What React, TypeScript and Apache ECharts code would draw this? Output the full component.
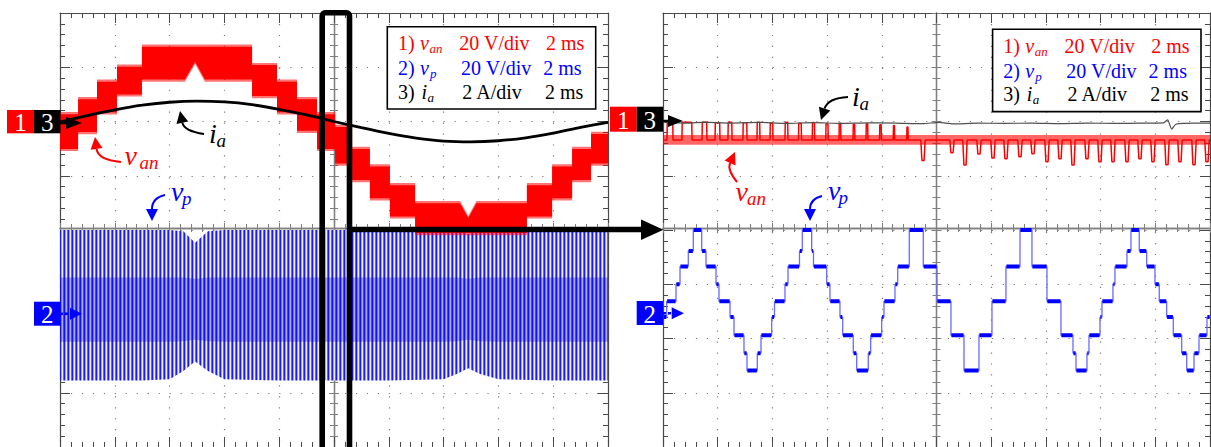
import React, { useEffect, useRef } from "react";
import * as echarts from "echarts";

// ---------------- data ----------------
// time axis: ms (2 ms/div, 10 div per panel); channels: ch1 van 20 V/div, ch2 vp 20 V/div, ch3 ia 2 A/div
const SCALE_VAN = 20;
const SCALE_VP = 20;
const SCALE_IA = 2;
const OFFSET_CH1 = 2; // divisions
const OFFSET_CH3 = 2;
const OFFSET_CH2 = -1.5;

// left panel: van PWM band (steps)
const vanStepStart = [0, 0.66, 1.35, 2.08, 2.99, 7.01, 7.92, 8.65, 9.38, 10.04, 10.66, 11.31, 12.04, 12.96, 17.04, 17.96, 18.69, 19.38];
const vanStepTop = [2.7, 8.2, 14.7, 20.2, 27.6, 20.8, 14.7, 8.2, 2.7, -2.0, -10.1, -16.6, -23.5, -30.1, -23.5, -16.6, -10.1, -4.6];
const vanStepBottom = [-10.1, -3.9, 3.4, 10.0, 15.5, 9.4, 3.4, -3.4, -10.1, -15.5, -21.6, -28.3, -35.0, -41.1, -35.0, -28.3, -21.6, -15.5];
const vanTopNotchT = [14.6, 14.9, 15.2];
const vanTopNotchV = [-30.1, -35.6, -30.1];
const vanBottomNotchT = [4.56, 4.93, 5.29];
const vanBottomNotchV = [15.5, 22.0, 15.5];

// left panel: vp switching band envelope
const vpLeftT = [0, 1, 2, 3, 4, 4.5, 4.93, 5.4, 6, 8, 10, 12, 14, 14.5, 14.9, 15.3, 16, 18, 20];
const vpLeftTop = [30, 30, 30, 30, 30, 29.5, 25.3, 29.5, 30, 30, 30, 30, 30, 30, 28.5, 30, 30, 30, 30];
const vpLeftBottom = [-25.5, -25.5, -25.5, -25.5, -25, -22, -18.5, -22, -25, -25.5, -25.5, -25.5, -25, -23, -21, -23, -25, -25.5, -25.5];
const vpLeftCoreTop = [12.5, 12.5, 12.5, 12.5, 12.5, 12.5, 12, 12.5, 12.5, 12.5, 12.5, 12.5, 12.5, 12.5, 12, 12.5, 12.5, 12.5, 12.5];
const vpLeftCoreBottom = [-11.2, -11.2, -11.2, -11.2, -11.2, -11, -10.5, -11, -11.2, -11.2, -11.2, -11.2, -11.2, -11, -10.5, -11, -11.2, -11.2, -11.2];

// left panel: ia (A)
const iaLeftT = [0, 1, 2, 3, 4, 5, 6, 7, 8, 9, 10, 11, 12, 13, 14, 15, 16, 17, 18, 19, 20];
const iaLeftV = [-0.02, 0.22, 0.43, 0.6, 0.71, 0.75, 0.72, 0.62, 0.45, 0.24, 0.0, -0.23, -0.44, -0.61, -0.72, -0.75, -0.71, -0.6, -0.43, -0.22, -0.03];

// right panel: vp staircase (step start times, levels)
const vpRightT = [0, 0.135, 0.475, 0.622, 0.925, 1.108, 1.415, 1.572, 1.938, 2.047, 2.45, 2.596, 2.961, 3.071, 3.448, 3.583, 3.974, 4.077, 4.46, 4.57, 4.99, 5.093, 5.436, 5.502, 5.985, 6.105, 6.471, 6.57, 6.957, 7.082, 7.506, 7.593, 7.996, 8.08, 8.482, 8.581, 9.005, 9.517, 10.017, 10.529, 11.005, 11.553, 12.028, 12.54, 13.052, 13.491, 14.039, 14.551, 14.99, 15.1, 15.502, 15.575, 15.977, 16.05, 16.452, 16.525, 16.964, 17.11, 17.414, 17.684, 17.988, 18.145, 18.416, 18.658, 18.965, 19.148, 19.415, 19.598, 19.89];
const vpRightV = [-2.1, 3.7, 10, 16.5, 22.3, 30, 22.3, 16.5, 10, 3.7, -2.1, -8.8, -15.4, -21.8, -15.4, -8.8, -2.1, 3.7, 10, 16.5, 22.3, 30, 22.3, 16.5, 10, 3.7, -2.1, -8.8, -15.4, -21.8, -15.4, -8.8, -2.1, 3.7, 10, 16.5, 30, 16.5, 3.7, -8.8, -21.8, -8.8, 3.7, 16.5, 30, 16.5, 3.7, -8.8, -15.4, -21.8, -15.4, -8.8, -2.1, 3.7, 10, 16.5, 22.3, 30, 22.3, 16.5, 10, 3.7, -2.1, -8.8, -15.4, -21.8, -15.4, -8.8, -2.1];

// right panel: van base level, noise band, upward pulses and downward dips
const vanRightBase = -6.8;
const vanRightBandTop = -5.0;
const vanRightBandBottom = -8.6;
const vanRightUpT = [0.256, 0.877, 1.517, 1.993, 2.45, 2.998, 3.491, 3.967, 4.515, 5.009, 5.502, 5.996, 6.471, 6.983, 7.458, 7.952, 8.445, 8.939];
const vanRightUpW = [0.22, 0.37, 0.18, 0.18, 0.15, 0.15, 0.11, 0.11, 0.11, 0.11, 0.09, 0.09, 0.07, 0.07, 0.07, 0.07, 0.055, 0.055];
const vanRightUpTop = [-0.3, -0.3, -0.3, -0.5, -0.3, -0.5, -0.3, -0.6, -0.3, -0.6, -0.4, -0.8, -0.6, -1.0, -0.8, -1.2, -1.5, -2.0];
const vanRightDipT = [9.506, 10.566, 11.041, 11.553, 12.065, 12.54, 13.052, 13.527, 14.039, 14.515, 14.99, 15.502, 15.977, 16.452, 16.964, 17.439, 17.914, 18.426, 18.902, 19.415, 19.89];
const vanRightDipV = [-14.4, -11.5, -16.0, -12.0, -13.5, -13.7, -13.0, -11.9, -14.8, -13.7, -16.0, -13.7, -14.8, -14.8, -14.8, -13.7, -14.8, -15.9, -14.8, -15.9, -14.8];

// right panel: ia (A)
const iaRightT = [0, 0.9, 1.5, 2.5, 3.5, 4.5, 5.5, 6.5, 7.5, 8.5, 9.5, 10.1, 10.6, 11.5, 12.5, 13.5, 14.5, 15.5, 16.5, 17.5, 18.3, 18.45, 18.6, 18.75, 19.5, 20];
const iaRightV = [-0.02, -0.06, -0.02, -0.06, -0.03, -0.07, -0.04, -0.07, -0.05, -0.06, -0.08, -0.03, -0.09, -0.06, -0.07, -0.06, -0.08, -0.06, -0.07, -0.06, -0.05, 0.06, -0.28, -0.1, -0.06, -0.06];

// legend rows
const legendNum = ["1)", "2)", "3)"];
const legendSym = ["v", "v", "i"];
const legendSub = ["an", "p", "a"];
const legendScale = ["20 V/div", "20 V/div", "2 A/div"];
const legendTime = ["2 ms", "2 ms", "2 ms"];

// ---------------- helpers ----------------
const SERIF = "Liberation Serif";
const RED = "#ff0000";
const BLUE = "#0000ff";
const BLACK = "#000000";
const GRID_COL = "#4a4a4a";
const CENTER_COL = "#808080";
const DOT_COL = "#7a7a7a";

const toDiv = (v: number, scale: number, off: number) => off + v / scale;

function stepEnvelope(starts: number[], levels: number[], notchT: number[], notchV: number[]) {
  const pts: number[][] = [];
  starts.forEach((s, i) => {
    const e = i + 1 < starts.length ? starts[i + 1] : 20;
    pts.push([s, levels[i]], [e, levels[i]]);
  });
  notchT.forEach((t, i) => pts.push([t, notchV[i]]));
  return pts.map((p, i) => ({ p, i })).sort((a, b) => a.p[0] - b.p[0] || a.i - b.i).map((o) => o.p);
}

function bandSeries(xi: number, upper: number[][], lower: number[][], fill: any) {
  return {
    type: "custom",
    coordinateSystem: "cartesian2d",
    xAxisIndex: xi,
    yAxisIndex: xi,
    clip: true,
    silent: true,
    data: [[upper[0][0], upper[0][1]]],
    renderItem: (params: any, api: any) => {
      const pts = upper.map((p) => api.coord(p)).concat(lower.slice().reverse().map((p) => api.coord(p)));
      return { type: "polygon", shape: { points: pts }, style: { fill } };
    },
  };
}

function lineSeries(xi: number, data: any[], color: string, width: number, extra: any = {}) {
  return {
    type: "line",
    xAxisIndex: xi,
    yAxisIndex: xi,
    data,
    symbol: "none",
    showSymbol: false,
    silent: true,
    connectNulls: false,
    lineStyle: { color, width },
    ...extra,
  };
}

function xAxes(g: number, half: number) {
  const base = {
    gridIndex: g,
    type: "value",
    min: 0,
    max: 20,
    interval: 2,
    axisLabel: { show: false },
    splitLine: { show: false },
    axisLine: { show: true, onZero: false, lineStyle: { color: GRID_COL, width: 1.2 } },
    axisTick: { show: true, inside: true, length: 10, lineStyle: { color: GRID_COL, width: 1 } },
    minorTick: { show: true, splitNumber: 5, length: 5, lineStyle: { color: GRID_COL, width: 1 } },
  };
  const center = {
    axisLine: { show: true, onZero: false, lineStyle: { color: CENTER_COL, width: 1.3 } },
    minorTick: { show: true, splitNumber: 5, length: 4, lineStyle: { color: CENTER_COL, width: 1 } },
  };
  return [
    { ...base, position: "bottom", splitLine: { show: true, lineStyle: { color: DOT_COL, width: 1.2, type: [1.2, 9.75] } } },
    { ...base, position: "top" },
    { ...base, ...center, position: "bottom", offset: -half, axisTick: { show: true, inside: true, length: 5, lineStyle: { color: CENTER_COL } } },
    { ...base, ...center, position: "bottom", offset: -half, axisTick: { show: true, inside: false, length: 5, lineStyle: { color: CENTER_COL } } },
  ];
}

function yAxes(g: number, half: number) {
  const base = {
    gridIndex: g,
    type: "value",
    min: -4,
    max: 4,
    interval: 1,
    axisLabel: { show: false },
    splitLine: { show: false },
    axisLine: { show: true, onZero: false, lineStyle: { color: GRID_COL, width: 1.2 } },
    axisTick: { show: true, inside: true, length: 10, lineStyle: { color: GRID_COL, width: 1 } },
    minorTick: { show: true, splitNumber: 5, length: 5, lineStyle: { color: GRID_COL, width: 1 } },
  };
  const center = {
    axisLine: { show: true, onZero: false, lineStyle: { color: CENTER_COL, width: 1.3 } },
    minorTick: { show: true, splitNumber: 5, length: 4, lineStyle: { color: CENTER_COL, width: 1 } },
  };
  return [
    { ...base, position: "left", splitLine: { show: true, lineStyle: { color: DOT_COL, width: 1.2, type: [1.2, 9.76] } } },
    { ...base, position: "right" },
    { ...base, ...center, position: "left", offset: -half, axisTick: { show: true, inside: true, length: 5, lineStyle: { color: CENTER_COL } } },
    { ...base, ...center, position: "left", offset: -half, axisTick: { show: true, inside: false, length: 5, lineStyle: { color: CENTER_COL } } },
  ];
}

function txt(x: number, base: number, s: string, color: string, size: number, italic = false, align = "left") {
  return {
    type: "text",
    z: 100,
    silent: true,
    style: {
      text: s,
      x,
      y: base - 0.34 * size,
      fill: color,
      fontSize: size,
      fontFamily: SERIF,
      fontStyle: italic ? "italic" : "normal",
      align,
      textAlign: align,
      verticalAlign: "middle",
      textVerticalAlign: "middle",
    },
  };
}

function curvedArrow(x1: number, y1: number, cx: number, cy: number, tx: number, ty: number, color: string) {
  const dx = tx - cx;
  const dy = ty - cy;
  const L = Math.hypot(dx, dy);
  const ux = dx / L;
  const uy = dy / L;
  const hl = 12;
  const hw = 6;
  const bx = tx - ux * hl;
  const by = ty - uy * hl;
  return [
    { type: "bezierCurve", z: 100, silent: true, shape: { x1, y1, x2: bx, y2: by, cpx1: cx, cpy1: cy }, style: { stroke: color, lineWidth: 2, fill: null } },
    { type: "polygon", z: 100, silent: true, shape: { points: [[tx, ty], [bx - uy * hw, by + ux * hw], [bx + uy * hw, by - ux * hw]] }, style: { fill: color } },
  ];
}

function legend(dx: number, dy: number) {
  const els: any[] = [
    { type: "rect", z: 99, silent: true, shape: { x: 387.3 + dx, y: 26.7 + dy, width: 208.4, height: 82.3 }, style: { fill: "#fff", stroke: "#000", lineWidth: 1.6 } },
  ];
  const colors = [RED, BLUE, BLACK];
  const bases = [50, 75, 98.5];
  const symX = [420, 420, 421.5];
  const subX = [429.5, 430, 427.5];
  const scaleX = [459.3, 461, 462.3];
  const timeX = [546, 543.3, 545];
  for (let i = 0; i < 3; i++) {
    const b = bases[i] + dy;
    els.push(txt(398 + dx, b, legendNum[i], colors[i], 20));
    els.push(txt(symX[i] + dx, b, legendSym[i], colors[i], 20, true));
    els.push(txt(subX[i] + dx, b + 3, legendSub[i], colors[i], 13, true));
    els.push(txt(scaleX[i] + dx, b, legendScale[i], colors[i], 20));
    els.push(txt(timeX[i] + dx, b, legendTime[i], colors[i], 20));
  }
  return els;
}

function marker(x: number, y: number, w: number, h: number, fill: string, label: string) {
  return [
    { type: "rect", z: 100, silent: true, shape: { x, y, width: w, height: h }, style: { fill } },
    { type: "text", z: 101, silent: true, style: { text: label, x: x + w / 2, y: y + h / 2 + 1, fill: "#fff", fontSize: 25, fontFamily: SERIF, align: "center", textAlign: "center", verticalAlign: "middle", textVerticalAlign: "middle" } },
  ];
}

function smallArrow(x0: number, baseX: number, tipX: number, y: number, hw: number, color: string, dashed = false) {
  return [
    { type: "line", z: 100, silent: true, shape: { x1: x0, y1: y, x2: baseX + 1, y2: y }, style: { stroke: color, lineWidth: 2.5, lineDash: dashed ? [3, 2] : null } },
    { type: "polygon", z: 100, silent: true, shape: { points: [[baseX, y - hw], [baseX, y + hw], [tipX, y]] }, style: { fill: color } },
  ];
}

export default function App() {
  const ref = useRef<HTMLDivElement>(null);

  useEffect(() => {
    if (!ref.current) return;
    const chart = echarts.init(ref.current, null, { renderer: "svg" });

    // stripe pattern for the switching band of vp (left)
    const cv = document.createElement("canvas");
    cv.width = 4;
    cv.height = 1;
    const ctx = cv.getContext("2d")!;
    ctx.fillStyle = "rgb(25,25,255)";
    ctx.fillRect(0, 0, 1, 1);
    ctx.fillStyle = "rgb(160,160,255)";
    ctx.fillRect(1, 0, 1, 1);
    ctx.fillStyle = "rgb(240,240,255)";
    ctx.fillRect(2, 0, 1, 1);
    ctx.fillStyle = "rgb(100,100,255)";
    ctx.fillRect(3, 0, 1, 1);
    const stripe = { image: cv, repeat: "repeat", imageWidth: 4, imageHeight: 1 };

    const c1 = (v: number) => toDiv(v, SCALE_VAN, OFFSET_CH1);
    const c2 = (v: number) => toDiv(v, SCALE_VP, OFFSET_CH2);
    const c3 = (v: number) => toDiv(v, SCALE_IA, OFFSET_CH3);

    // ---- left panel ----
    const topEnv = stepEnvelope(vanStepStart, vanStepTop, vanTopNotchT, vanTopNotchV);
    const botEnv = stepEnvelope(vanStepStart, vanStepBottom, vanBottomNotchT, vanBottomNotchV);
    const vanUpper = topEnv.map(([t, v]) => [t, c1(v)]);
    const vanLower = botEnv.map(([t, v]) => [t, c1(v)]);
    const vanUpperF = topEnv.map(([t, v]) => [t, c1(v + 0.8)]);
    const vanLowerF = botEnv.map(([t, v]) => [t, c1(v - 0.8)]);

    const vpUpper = vpLeftT.map((t, i) => [t, c2(vpLeftTop[i])]);
    const vpLower = vpLeftT.map((t, i) => [t, c2(vpLeftBottom[i])]);
    const vpCoreUpper = vpLeftT.map((t, i) => [t, c2(vpLeftCoreTop[i])]);
    const vpCoreLower = vpLeftT.map((t, i) => [t, c2(vpLeftCoreBottom[i])]);

    const iaLeft = iaLeftT.map((t, i) => [t, c3(iaLeftV[i])]);

    // ---- right panel ----
    const vpSteps: any[] = [];
    const vpFlats: any[] = [];
    vpRightT.forEach((t, i) => {
      const e = i + 1 < vpRightT.length ? vpRightT[i + 1] : 20;
      vpSteps.push([t, c2(vpRightV[i])], [e, c2(vpRightV[i])]);
      vpFlats.push([t + 0.015, c2(vpRightV[i])], [e - 0.015, c2(vpRightV[i])], [(t + e) / 2, "-"]);
    });

    const vanPts: number[][] = [[0, vanRightBase]];
    vanRightUpT.forEach((c, i) => {
      const h = vanRightUpW[i] / 2;
      vanPts.push([c - h, vanRightBase], [c - h + 0.01, vanRightUpTop[i]], [c + h - 0.01, vanRightUpTop[i]], [c + h, vanRightBase]);
    });
    vanRightDipT.forEach((d, i) => {
      vanPts.push([d - 0.08, vanRightBase], [d - 0.04, vanRightDipV[i]], [d + 0.04, vanRightDipV[i]], [d + 0.08, vanRightBase]);
    });
    vanPts.push([20, vanRightBase]);
    const vanRight = vanPts
      .map((p, i) => ({ p, i }))
      .sort((a, b) => a.p[0] - b.p[0] || a.i - b.i)
      .map((o) => [o.p[0], c1(o.p[1])]);
    const vanBandU = [[0, c1(vanRightBandTop)], [20, c1(vanRightBandTop)]];
    const vanBandL = [[0, c1(vanRightBandBottom)], [20, c1(vanRightBandBottom)]];

    const iaRight = iaRightT.map((t, i) => [t, c3(iaRightV[i])]);

    const series: any[] = [
      bandSeries(0, vpUpper, vpLower, stripe),
      bandSeries(0, vpCoreUpper, vpCoreLower, "rgba(0,0,220,0.3)"),
      bandSeries(0, vanUpperF, vanLowerF, "rgba(255,0,0,0.55)"),
      bandSeries(0, vanUpper, vanLower, RED),
      lineSeries(0, iaLeft, BLACK, 2.8, { smooth: 0.3 }),

      lineSeries(4, vpSteps, "#6a6aff", 1.3),
      lineSeries(4, vpFlats, BLUE, 4),
      bandSeries(4, vanBandU, vanBandL, "rgba(255,0,0,0.6)"),
      lineSeries(4, vanRight, RED, 1.5),
      lineSeries(4, iaRight, "#505050", 1.2, { smooth: 0.2 }),
    ];

    const graphics: any[] = [
      // zoom window and arrow
      { type: "rect", z: 100, silent: true, shape: { x: 322.2, y: 12.8, width: 27.3, height: 600, r: 3 }, style: { fill: null, stroke: BLACK, lineWidth: 5.6 } },
      { type: "line", z: 100, silent: true, shape: { x1: 350, y1: 229.5, x2: 645, y2: 229.5 }, style: { stroke: BLACK, lineWidth: 5.5 } },
      { type: "polygon", z: 100, silent: true, shape: { points: [[641, 219.5], [641, 240], [663.5, 229.7]] }, style: { fill: BLACK } },
      // legends
      ...legend(0, 0),
      ...legend(605.3, 2.6),
      // channel markers left
      ...marker(7, 110, 27, 23.3, RED, "1"),
      ...marker(34, 110, 26.5, 23.3, BLACK, "3"),
      ...smallArrow(60, 66, 82, 123, 6, BLACK),
      ...marker(34, 301.7, 26.5, 24, BLUE, "2"),
      ...smallArrow(60, 70, 82, 313.8, 6, BLUE, true),
      // channel markers right
      ...marker(610, 106.7, 26.7, 25, RED, "1"),
      ...marker(636.7, 106.7, 26.3, 25, BLACK, "3"),
      ...smallArrow(663, 668, 683, 121, 6, BLACK),
      ...marker(636.7, 301, 26.3, 24, BLUE, "2"),
      ...smallArrow(663, 671.7, 684, 313.3, 6, BLUE, true),
      // annotations left
      txt(124.5, 165.5, "v", RED, 28, true),
      txt(139.5, 169, "an", RED, 19, true),
      ...curvedArrow(121, 162, 98, 160, 95, 137, RED),
      txt(209, 143, "i", BLACK, 28, true),
      txt(216.5, 147, "a", BLACK, 19, true),
      ...curvedArrow(204, 134, 184, 131, 180, 111, BLACK),
      txt(171, 201, "v", BLUE, 28, true),
      txt(182, 205, "p", BLUE, 19, true),
      ...curvedArrow(165, 195, 152, 198, 152, 221, BLUE),
      // annotations right
      txt(852, 106, "i", BLACK, 28, true),
      txt(859.5, 110, "a", BLACK, 19, true),
      ...curvedArrow(848, 97, 828, 98, 821, 120, BLACK),
      txt(735.5, 201, "v", RED, 28, true),
      txt(747, 205, "an", RED, 19, true),
      ...curvedArrow(737, 182, 727, 170, 735, 152, RED),
      txt(828, 200, "v", BLUE, 28, true),
      txt(838.5, 204, "p", BLUE, 19, true),
      ...curvedArrow(822, 196, 810, 199, 810, 221, BLUE),
    ];

    chart.setOption({
      animation: false,
      backgroundColor: "#fff",
      grid: [
        { left: 60, top: 13, width: 548, height: 438 },
        { left: 663, top: 13, width: 547, height: 438 },
      ],
      xAxis: [...xAxes(0, 219), ...xAxes(1, 219)],
      yAxis: [...yAxes(0, 274), ...yAxes(1, 273.5)],
      series,
      graphic: { elements: graphics },
    });

    return () => chart.dispose();
  }, []);

  return <div ref={ref} style={{ position: "absolute", left: 0, top: 0, width: 1211, height: 447 }} />;
}
